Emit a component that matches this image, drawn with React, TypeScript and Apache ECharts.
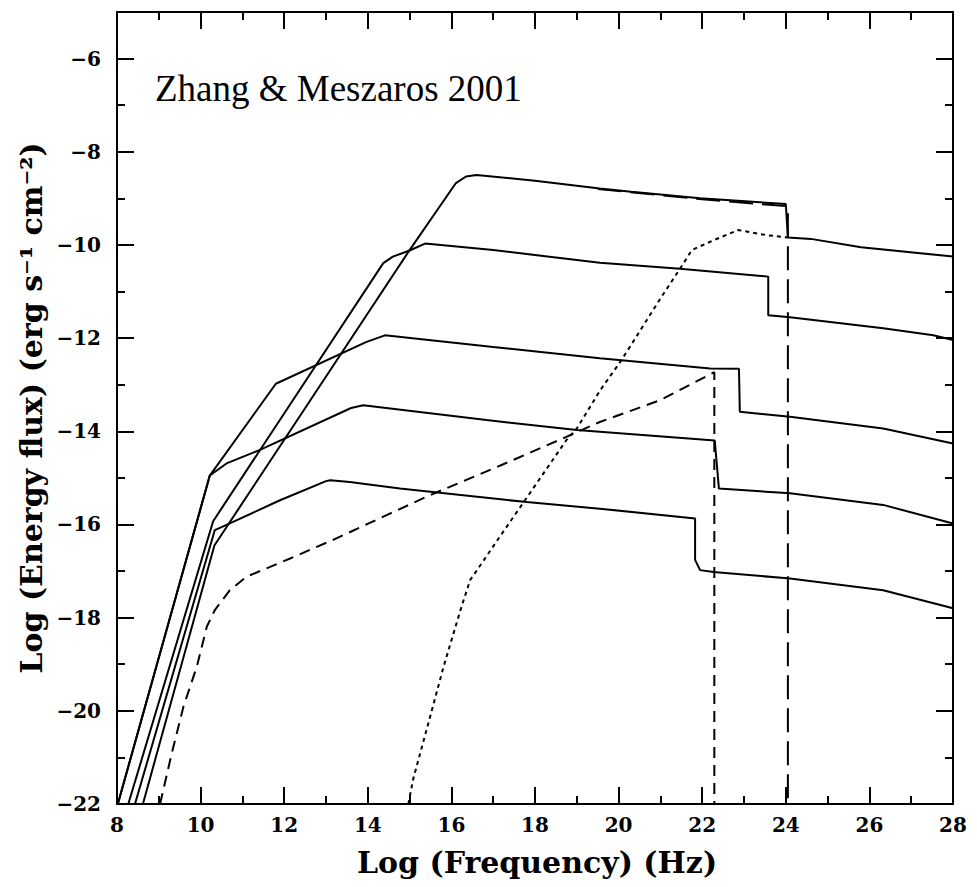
import React, { useEffect, useRef } from "react";
import * as echarts from "echarts";

// ---- data (log frequency, log energy flux) ----
const curve1X = [8.62, 10.33, 15.0, 16.1, 16.35, 16.6, 18.0, 19.55, 20.3, 21.95, 24.0, 24.05, 24.6, 25.8, 28.0];
const curve1Y = [-22, -16.45, -10.11, -8.68, -8.53, -8.5, -8.62, -8.79, -8.86, -9.0, -9.12, -9.84, -9.87, -10.05, -10.25];

const curve2X = [8.27, 10.3, 14.37, 14.6, 15.0, 15.37, 17.0, 19.55, 21.47, 23.58, 23.58, 24.1, 26.33, 27.53, 28.0];
const curve2Y = [-22, -15.93, -10.39, -10.25, -10.12, -9.97, -10.11, -10.38, -10.51, -10.68, -11.51, -11.55, -11.79, -11.94, -12.04];

const curve3X = [8.02, 10.22, 11.8, 13.97, 14.41, 17.0, 19.55, 22.19, 22.88, 22.9, 24.1, 26.33, 28.0];
const curve3Y = [-22, -14.95, -12.98, -12.08, -11.94, -12.19, -12.43, -12.65, -12.66, -13.58, -13.69, -13.94, -14.26];

const curve4X = [8.02, 10.22, 10.62, 11.42, 13.6, 13.89, 16.84, 19.0, 22.3, 22.4, 24.1, 26.33, 28.0];
const curve4Y = [-22, -14.95, -14.69, -14.4, -13.5, -13.44, -13.76, -13.97, -14.2, -15.23, -15.33, -15.58, -15.98];

const curve5X = [8.43, 10.34, 10.62, 11.9, 13.0, 13.1, 13.57, 14.77, 17.8, 19.55, 21.83, 21.83, 21.95, 22.27, 24.1, 26.33, 28.0];
const curve5Y = [-22, -16.12, -16.01, -15.48, -15.07, -15.05, -15.09, -15.23, -15.52, -15.66, -15.87, -16.76, -16.98, -17.02, -17.16, -17.41, -17.8];

const dashedX = [9.03, 9.31, 9.59, 9.91, 10.15, 10.34, 10.7, 11.1, 12.14, 13.17, 14.45, 15.49, 17.08, 18.75, 19.55, 21.0, 22.29, 22.29];
const dashedY = [-22, -20.91, -19.91, -19.05, -18.19, -17.84, -17.41, -17.12, -16.73, -16.33, -15.8, -15.37, -14.77, -14.12, -13.8, -13.33, -12.73, -22];

const longDashX = [19.5, 22.0, 24.05, 24.05];
const longDashY = [-8.8, -9.02, -9.17, -22];

const dottedX = [14.97, 15.09, 15.49, 15.81, 16.24, 16.45, 16.56, 17.16, 17.76, 18.75, 19.0, 19.56, 20.07, 21.0, 21.55, 21.75, 22.27, 22.86, 23.54, 24.05];
const dottedY = [-22, -21.45, -20.13, -19.06, -17.77, -17.19, -17.05, -16.26, -15.48, -14.19, -13.94, -13.12, -12.47, -11.15, -10.4, -10.11, -9.9, -9.68, -9.79, -9.84];

const xMin = 8;
const xMax = 28;
const yMin = -22;
const yMax = -5;

const annotation = "Zhang & Meszaros 2001";
const xTitle = "Log (Frequency) (Hz)";
const yTitle = "Log (Energy flux) (erg s⁻¹ cm⁻²)";

const zip = (xs: number[], ys: number[]) => xs.map((x, i) => [x, ys[i]]);

const BLACK = "#000";
const LABEL_FONT = "DejaVu Serif";

export default function App() {
  const ref = useRef<HTMLDivElement>(null);

  useEffect(() => {
    if (!ref.current) return;
    const chart = echarts.init(ref.current, undefined, { renderer: "svg" });

    const tickStyle = { color: BLACK, width: 2 };
    const xAxisBase = (pos: "bottom" | "top", labels: boolean) => ({
      type: "value",
      min: xMin,
      max: xMax,
      interval: 2,
      position: pos,
      axisLine: { show: true, onZero: false, lineStyle: { color: BLACK, width: 2 } },
      axisTick: { show: true, inside: true, length: 17, lineStyle: tickStyle },
      minorTick: { show: true, splitNumber: 2, length: 8, lineStyle: tickStyle },
      splitLine: { show: false },
      minorSplitLine: { show: false },
      axisLabel: {
        show: labels,
        margin: 11,
        color: BLACK,
        fontFamily: LABEL_FONT,
        fontWeight: "bold",
        fontSize: 20,
      },
    });
    const yAxisBase = (pos: "left" | "right", major: boolean, labels: boolean) => ({
      type: "value",
      min: yMin,
      max: yMax,
      interval: major ? 2 : 1,
      position: pos,
      axisLine: { show: major, onZero: false, lineStyle: { color: BLACK, width: 2 } },
      axisTick: { show: true, inside: true, length: major ? 17 : 8, lineStyle: tickStyle },
      splitLine: { show: false },
      axisLabel: {
        show: labels,
        showMaxLabel: false,
        margin: 16,
        color: BLACK,
        fontFamily: LABEL_FONT,
        fontWeight: "bold",
        fontSize: 20,
        formatter: (v: number) => (v === yMax ? "" : v < 0 ? "−" + Math.abs(v) : String(v)),
      },
    });

    const lineSeries = (xs: number[], ys: number[], type: any) => ({
      type: "line",
      xAxisIndex: 0,
      yAxisIndex: 0,
      data: zip(xs, ys),
      showSymbol: false,
      symbol: "none",
      clip: true,
      lineStyle: { color: BLACK, width: 2, type },
      silent: true,
    });

    chart.setOption({
      animation: false,
      backgroundColor: "#fff",
      grid: { left: 117, right: 24, top: 12, bottom: 83, containLabel: false },
      xAxis: [xAxisBase("bottom", true), xAxisBase("top", false)],
      yAxis: [
        yAxisBase("left", true, true),
        yAxisBase("left", false, false),
        yAxisBase("right", true, false),
        yAxisBase("right", false, false),
      ],
      series: [
        lineSeries(curve1X, curve1Y, "solid"),
        lineSeries(curve2X, curve2Y, "solid"),
        lineSeries(curve3X, curve3Y, "solid"),
        lineSeries(curve4X, curve4Y, "solid"),
        lineSeries(curve5X, curve5Y, "solid"),
        lineSeries(dashedX, dashedY, [11, 7]),
        lineSeries(longDashX, longDashY, [24, 9]),
        lineSeries(dottedX, dottedY, [4, 4]),
      ],
      graphic: [
        {
          type: "text",
          x: 155,
          y: 88,
          style: {
            text: annotation,
            font: '37px "Liberation Serif"',
            fill: BLACK,
            align: "left",
            verticalAlign: "middle",
          },
        },
        {
          type: "text",
          x: 537,
          y: 862,
          style: {
            text: xTitle,
            font: 'bold 30px "DejaVu Serif"',
            fill: BLACK,
            align: "center",
            verticalAlign: "middle",
          },
        },
        {
          type: "text",
          x: 31,
          y: 408,
          rotation: Math.PI / 2,
          style: {
            text: yTitle,
            font: 'bold 30px "DejaVu Serif"',
            fill: BLACK,
            align: "center",
            verticalAlign: "middle",
          },
        },
      ],
    });

    return () => chart.dispose();
  }, []);

  return (
    <div
      ref={ref}
      style={{ position: "absolute", left: 0, top: 0, width: 977, height: 887, background: "#fff" }}
    />
  );
}
